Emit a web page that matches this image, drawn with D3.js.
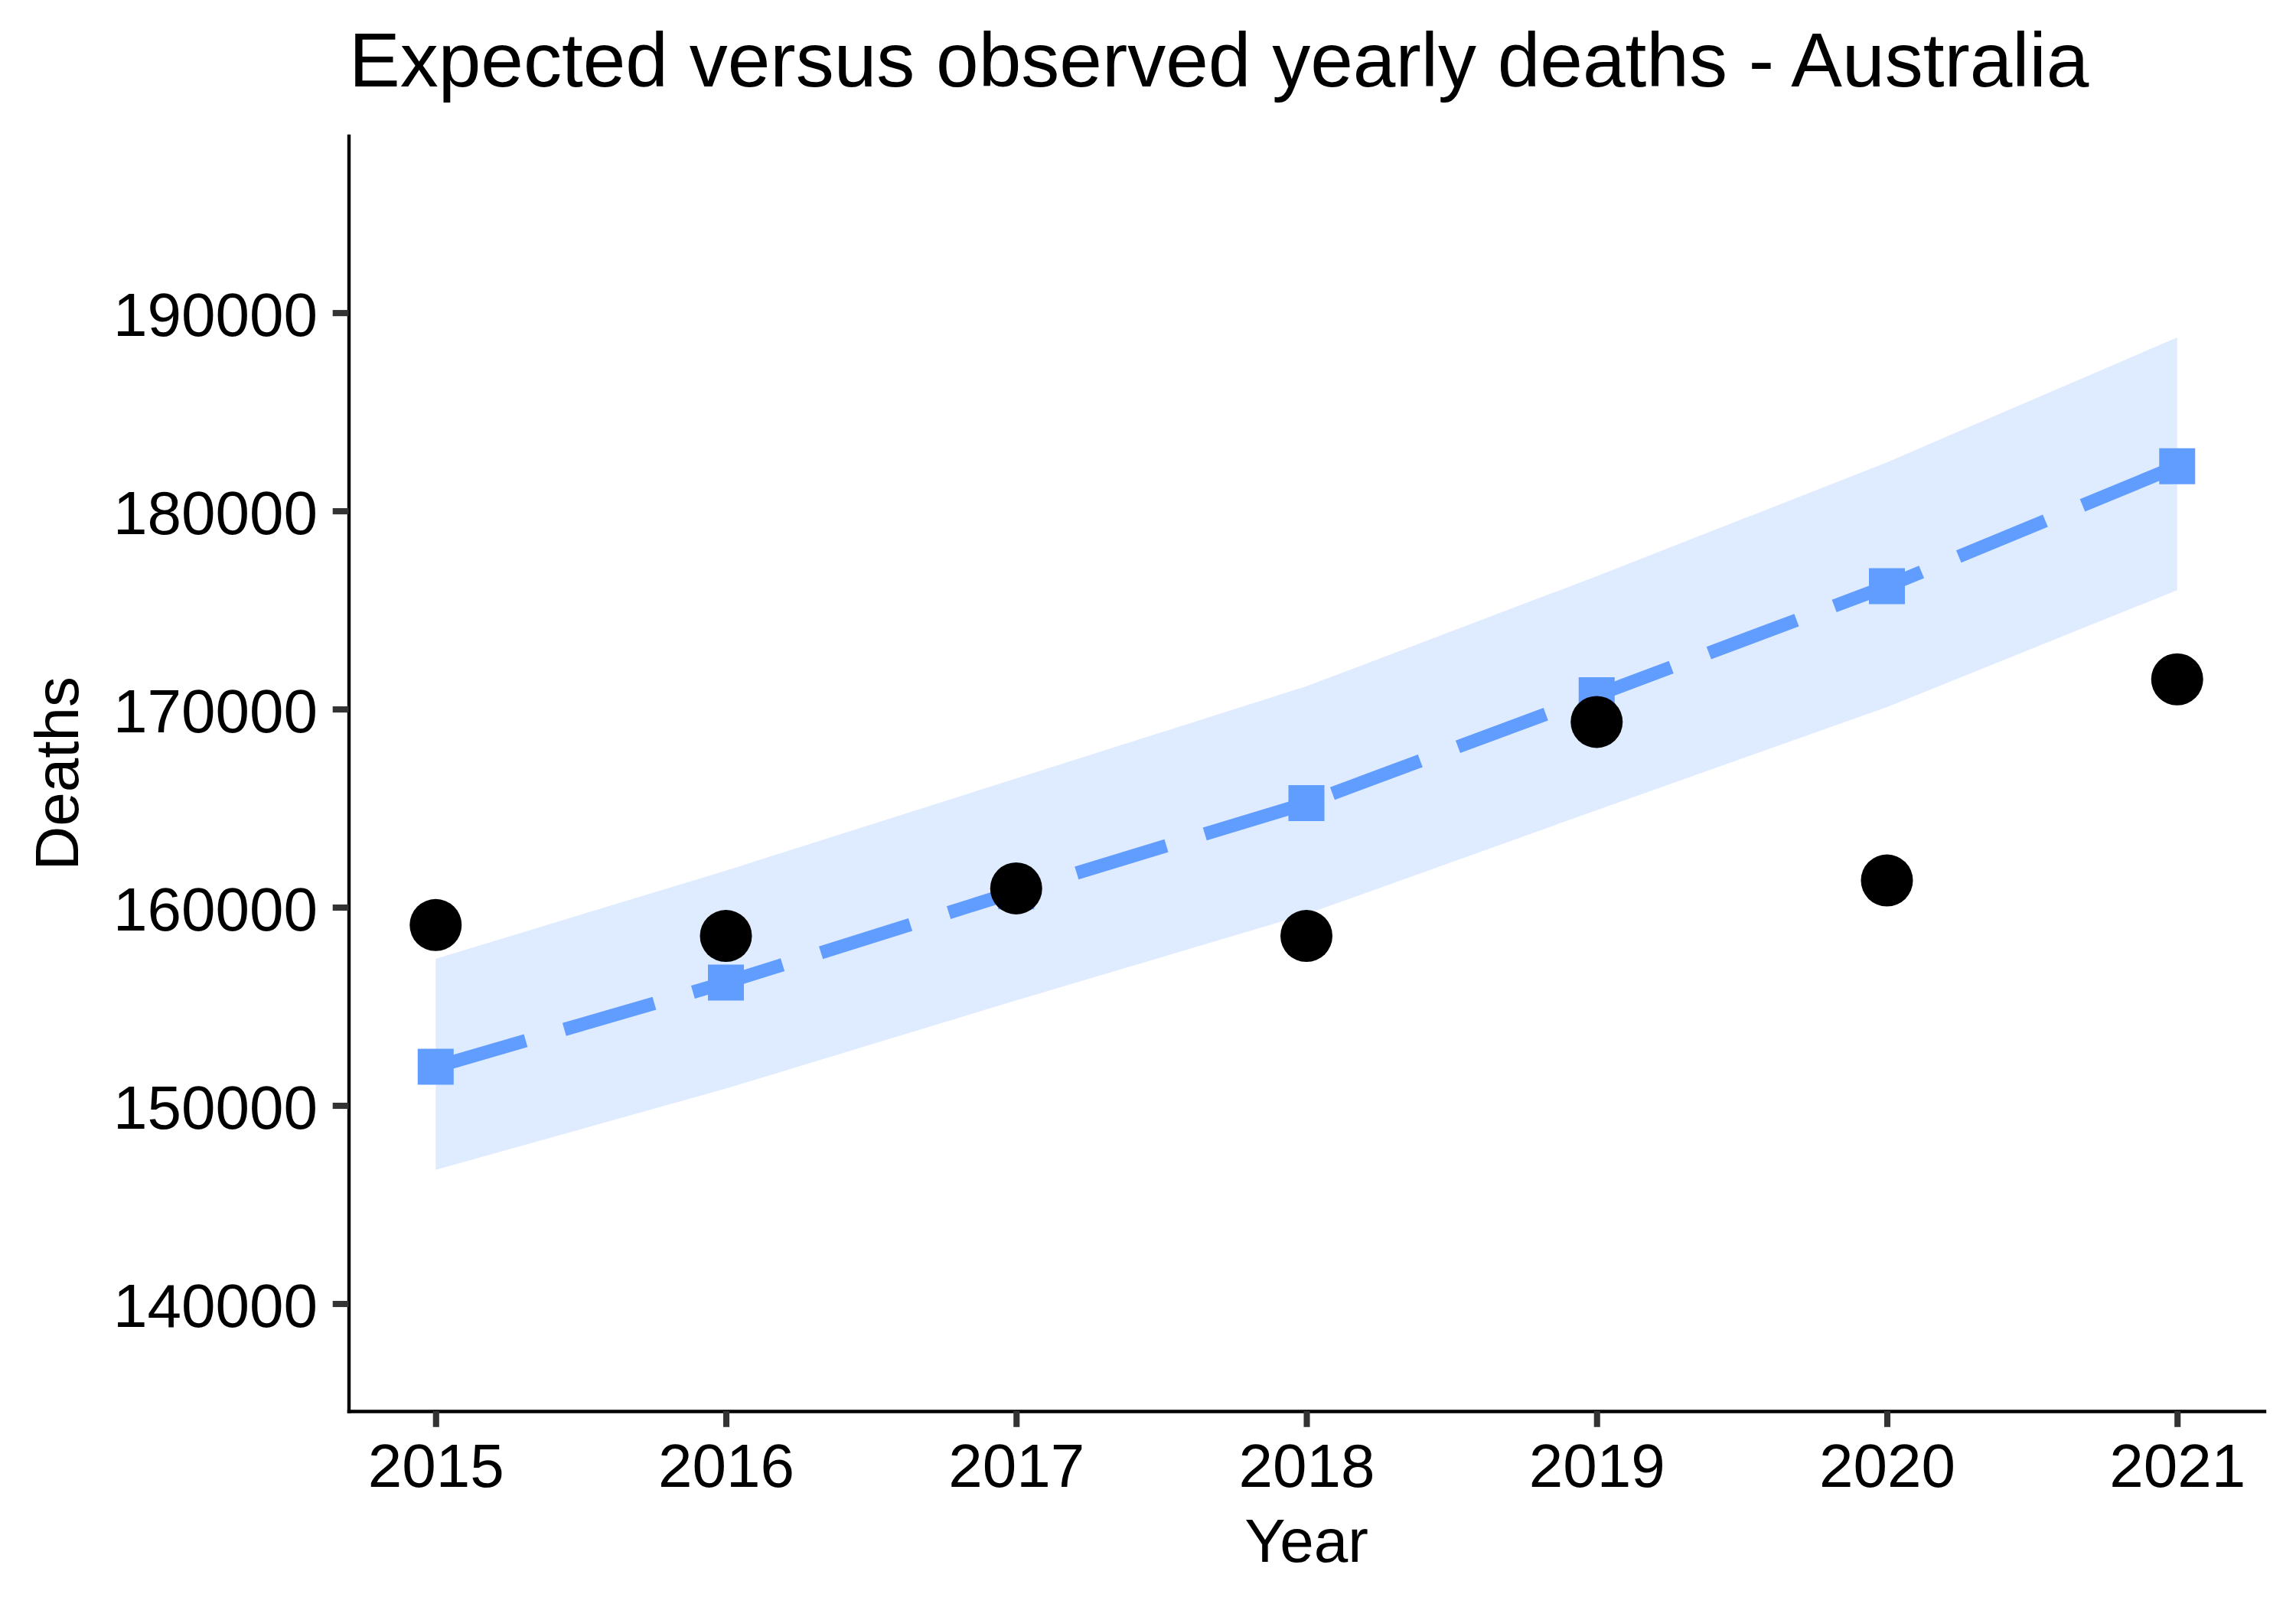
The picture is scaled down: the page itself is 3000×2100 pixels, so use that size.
<!DOCTYPE html>
<html>
<head>
<meta charset="utf-8">
<script src="https://cdn.jsdelivr.net/npm/d3@7"></script>
<style>
  html, body { margin: 0; padding: 0; background: #ffffff; }
  svg { display: block; }
  text { font-family: "Liberation Sans", Arial, Helvetica, sans-serif; fill: #000000; }
</style>
</head>
<body>
<svg id="chart" width="3000" height="2100"></svg>
<script>
// ---- data ----
const years = [2015, 2016, 2017, 2018, 2019, 2020, 2021];
const observedDeaths = [159100, 158550, 160950, 158550, 169350, 161350, 171500];
const expectedDeaths = [151950, 156200, 160800, 165250, 170700, 176200, 182250];
const upperBound = [157400, 161850, 166500, 171150, 176700, 182450, 188750];
const lowerBound = [146750, 150850, 155300, 159650, 164900, 170100, 176000];
const yTickValues = [140000, 150000, 160000, 170000, 180000, 190000];
const xTickValues = [2015, 2016, 2017, 2018, 2019, 2020, 2021];
const yLimits = [137500, 196000];
const titleText = "Expected versus observed yearly deaths - Australia";
const xTitle = "Year";
const yTitle = "Deaths";

// ---- layout ----
const W = 3000, H = 2100;
const panel = { left: 455.5, right: 2958.5, top: 177.5, bottom: 1844 };
const blue = "#619CFF";

const svg = d3.select("#chart");
svg.append("rect").attr("width", W).attr("height", H).attr("fill", "#ffffff");

const xExp = (d3.max(years) - d3.min(years)) * 0.05;
const x = d3.scaleLinear()
  .domain([d3.min(years) - xExp, d3.max(years) + xExp])
  .range([panel.left, panel.right]);
const yExp = (yLimits[1] - yLimits[0]) * 0.05;
const y = d3.scaleLinear()
  .domain([yLimits[0] - yExp, yLimits[1] + yExp])
  .range([panel.bottom, panel.top]);

const rows = years.map((yr, i) => ({
  year: yr, obs: observedDeaths[i], exp: expectedDeaths[i],
  lo: lowerBound[i], hi: upperBound[i]
}));

// ribbon
const area = d3.area()
  .x(d => x(d.year))
  .y0(d => y(d.lo))
  .y1(d => y(d.hi));
svg.append("path")
  .datum(rows)
  .attr("d", area)
  .attr("fill", blue)
  .attr("fill-opacity", 0.2);

// expected dashed line
const line = d3.line().x(d => x(d.year)).y(d => y(d.exp));
const lw = 17.5;
svg.append("path")
  .datum(rows)
  .attr("d", line)
  .attr("fill", "none")
  .attr("stroke", blue)
  .attr("stroke-width", lw)
  .attr("stroke-linecap", "butt")
  .attr("stroke-linejoin", "round")
  .attr("stroke-dasharray", `${7 * lw},${3 * lw}`);

// expected squares
const sq = 47;
svg.append("g").selectAll("path")
  .data(rows)
  .join("path")
  .attr("transform", d => `translate(${x(d.year)},${y(d.exp)})`)
  .attr("d", d3.symbol(d3.symbolSquare, sq * sq)())
  .attr("fill", blue);

// observed circles
svg.append("g").selectAll("circle")
  .data(rows)
  .join("circle")
  .attr("cx", d => x(d.year))
  .attr("cy", d => y(d.obs))
  .attr("r", 34)
  .attr("fill", "#000000");

// axes
const tickLen = 20.8;
const yAxis = d3.axisLeft(y)
  .tickValues(yTickValues)
  .tickFormat(d3.format("d"))
  .tickSize(tickLen)
  .tickSizeOuter(0)
  .tickPadding(19.7);
const gy = svg.append("g")
  .attr("transform", `translate(${panel.left},0)`)
  .call(yAxis);

const xAxis = d3.axisBottom(x)
  .tickValues(xTickValues)
  .tickFormat(d3.format("d"))
  .tickSize(tickLen)
  .tickSizeOuter(0)
  .tickPadding(21.4);
const gx = svg.append("g")
  .attr("transform", `translate(0,${panel.bottom})`)
  .call(xAxis);

[gx, gy].forEach(g => {
  g.select(".domain").attr("stroke", "#000000").attr("stroke-width", 4.4)
    .attr("stroke-linecap", "square");
  g.selectAll(".tick line").attr("stroke", "#333333").attr("stroke-width", 8.1);
  g.selectAll(".tick text")
    .attr("font-size", 80)
    .attr("font-family", "Liberation Sans, Arial, Helvetica, sans-serif")
    .attr("fill", "#000000");
});
gy.selectAll(".tick text").attr("dy", "0.37em");

// titles
svg.append("text")
  .attr("x", 456)
  .attr("y", 113)
  .attr("font-size", 100)
  .text(titleText);

svg.append("text")
  .attr("x", (panel.left + panel.right) / 2)
  .attr("y", 2041)
  .attr("text-anchor", "middle")
  .attr("font-size", 80)
  .text(xTitle);

svg.append("text")
  .attr("transform", `translate(102,${(panel.top + panel.bottom) / 2}) rotate(-90)`)
  .attr("text-anchor", "middle")
  .attr("font-size", 80)
  .text(yTitle);
</script>
</body>
</html>
